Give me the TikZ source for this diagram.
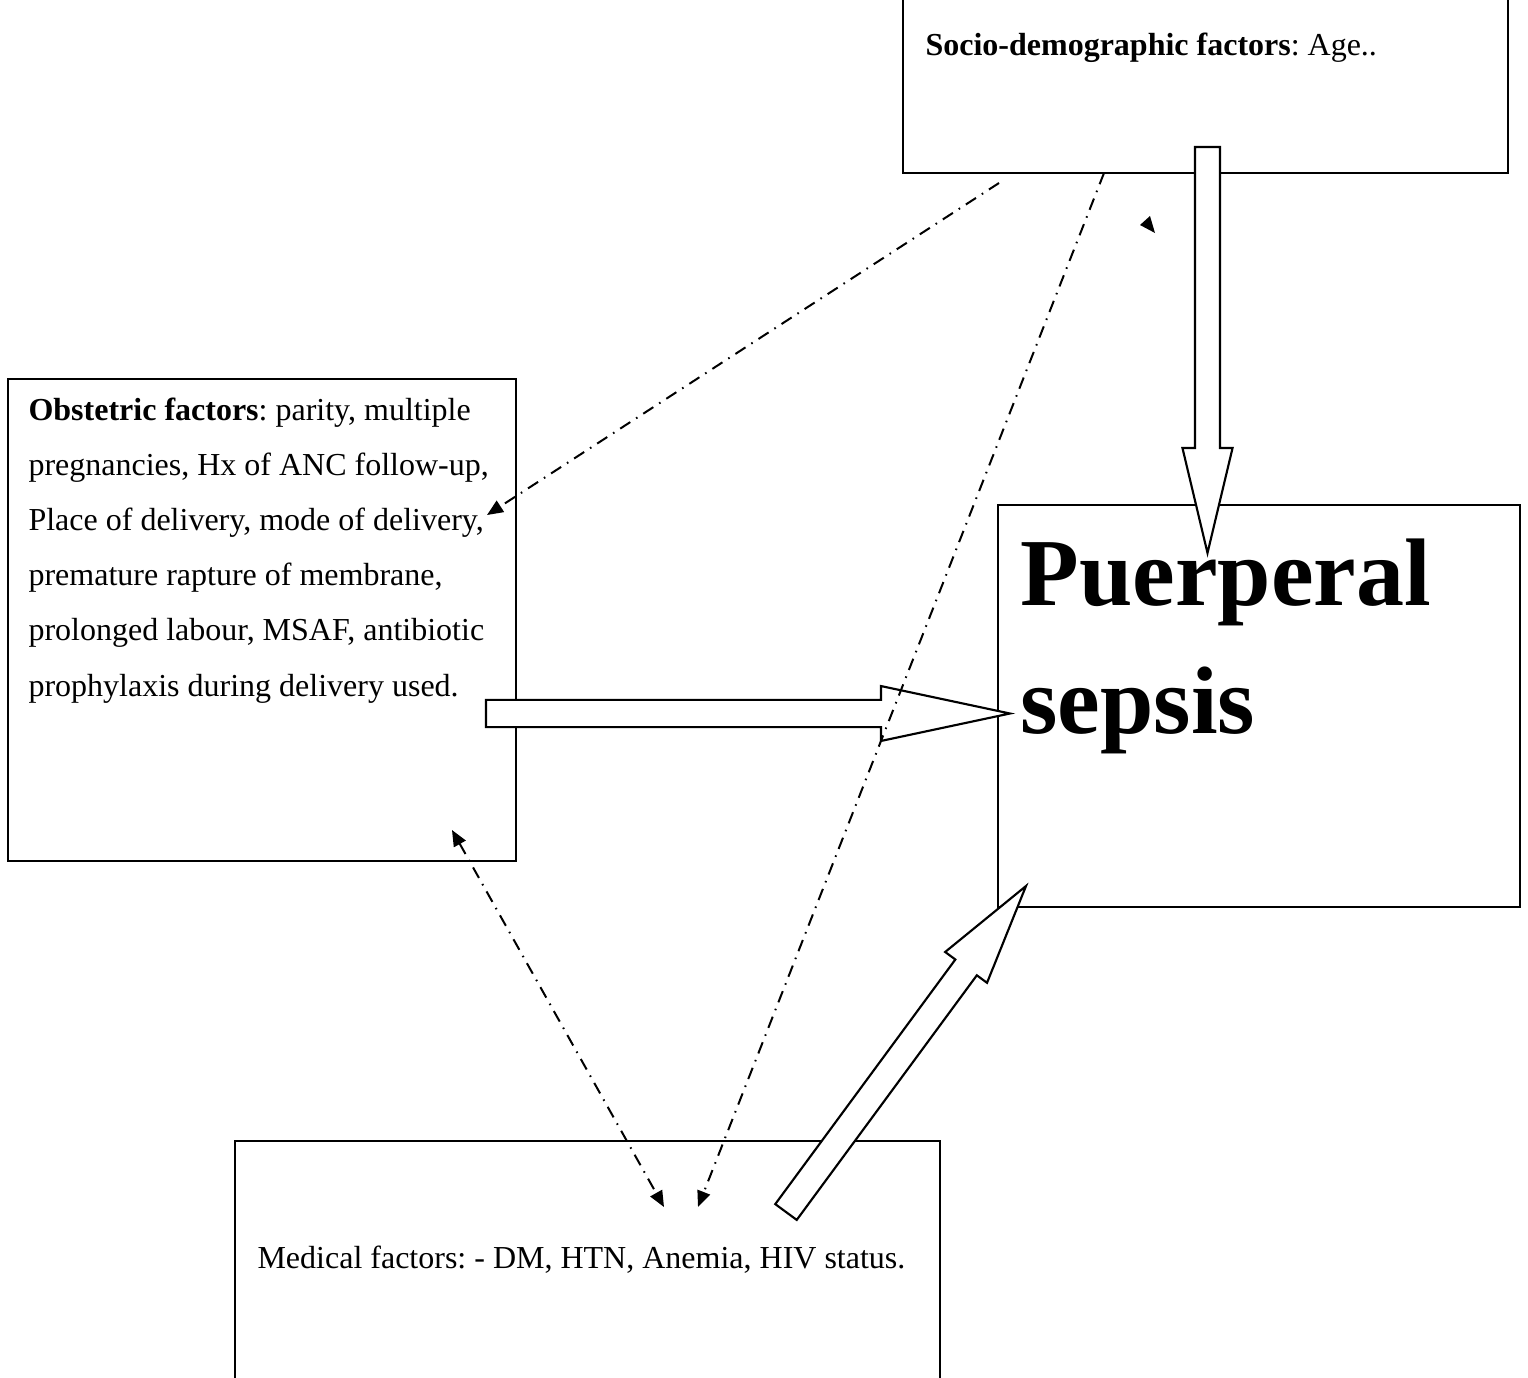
\documentclass[tikz,border=0pt]{standalone}
\usepackage{fontspec}
\setmainfont{Liberation Serif}
\usetikzlibrary{arrows.meta,calc}
\frenchspacing

\tikzstyle{factorbox}=[draw,black,line width=0.8pt,rectangle,inner sep=0pt]
\tikzstyle{factortext}=[inner sep=0pt,anchor=base west,align=flush left,font=\fontsize{12}{20.7}\selectfont]
\tikzstyle{fatarrow}=[draw,black,fill=white,line width=0.8pt,line join=miter]
\tikzstyle{link}=[line width=0.75pt,dash pattern=on 4.5pt off 2.6pt on 0.6pt off 2.6pt]
\tikzstyle{tip}=[-{Triangle[length=6pt,width=5pt]}]

\newcommand{\blockarrow}[5]{%
  \coordinate (ba-b) at ($(#2)!#5!(#1)$);
  \draw[fatarrow] ($(#1)!#3!90:(#2)$) -- ($(ba-b)!#3!90:(#2)$) -- ($(ba-b)!#4!90:(#2)$) -- (#2)
    -- ($(ba-b)!#4!-90:(#2)$) -- ($(ba-b)!#3!-90:(#2)$) -- ($(#1)!#3!-90:(#2)$) -- cycle;
}

\begin{document}
\begin{tikzpicture}[x=0.375pt,y=-0.375pt]
    \useasboundingbox (0,0) rectangle (1528,1378);
    \node (socio)[factorbox,minimum width=226.9pt,minimum height=72pt] at (1205.5,77) {};
    \node (obst)[factorbox,minimum width=190.5pt,minimum height=180.75pt] at (262,620) {};
    \node (sepsis)[factorbox,minimum width=195.75pt,minimum height=150.75pt] at (1259,706) {};
    \node (medical)[factorbox,minimum width=264.4pt,minimum height=93.4pt] at (587.5,1265.5) {};
    \coordinate (ageOut) at (1207.5,147);
    \coordinate (ageIn) at (1207.5,553);
    \coordinate (obsOut) at (486,713.5);
    \coordinate (obsIn) at (1010,713.5);
    \coordinate (medOut) at (786,1212);
    \coordinate (medIn) at (1026,886);
    \blockarrow{ageOut}{ageIn}{4.7pt}{9.4pt}{39.4pt}
    \blockarrow{obsOut}{obsIn}{5.1pt}{10.3pt}{48.4pt}
    \blockarrow{medOut}{medIn}{5pt}{9.75pt}{37.9pt}
    \node (sociotxt)[factortext] at (925,55) {\textbf{Socio-demographic factors}: Age..};
    \node (obsttxt)[factortext,text width=200pt] at (28,420) {\textbf{Obstetric factors}: parity, multiple\\pregnancies, Hx of ANC follow-up,\\Place of delivery, mode of delivery,\\premature rapture of membrane,\\prolonged labour, MSAF, antibiotic\\prophylaxis during delivery used.};
    \node (sepsistxt)[factortext,text width=200pt,font=\fontsize{36}{48}\selectfont\bfseries] at (1020,605) {Puerperal\\sepsis};
    \node (medicaltxt)[factortext] at (257,1268) {Medical factors: - DM, HTN, Anemia, HIV status.};
    \coordinate (socA) at (999,183);
    \coordinate (obsA) at (487,515);
    \coordinate (socB) at (1104,173);
    \coordinate (medB) at (698,1207);
    \coordinate (obsC) at (452,830);
    \coordinate (medC) at (664,1207);
    \path[link,tip] (socA) edge (obsA);
    \path[link,tip] (socB) edge (medB);
    \path[link,{Triangle[length=6pt,width=5pt]}-{Triangle[length=6pt,width=5pt]}] (obsC) edge (medC);
    \fill (1140,225) -- (1150,216) -- (1155,233) -- cycle;
\end{tikzpicture}
\end{document}
